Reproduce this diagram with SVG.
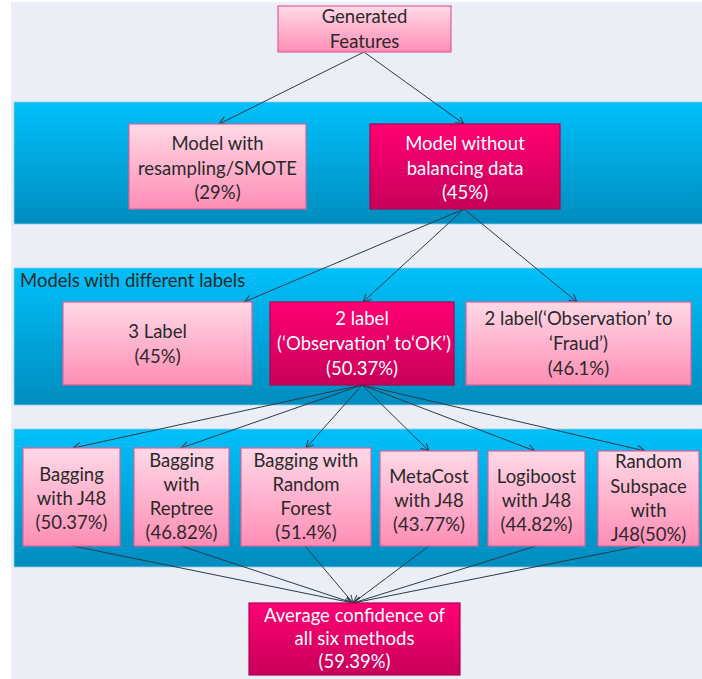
<svg xmlns="http://www.w3.org/2000/svg" width="702" height="679" viewBox="0 0 702 679">
<defs>
<linearGradient id="gLight" x1="0" y1="0" x2="0" y2="1">
<stop offset="0" stop-color="#ffd9e7"/><stop offset="1" stop-color="#ff8db5"/>
</linearGradient>
<linearGradient id="gDark" x1="0" y1="0" x2="0" y2="1">
<stop offset="0" stop-color="#ff0073"/><stop offset="1" stop-color="#c8005a"/>
</linearGradient>
<linearGradient id="gBand" x1="0" y1="0" x2="0" y2="1">
<stop offset="0" stop-color="#00c0fa"/><stop offset="1" stop-color="#008cbe"/>
</linearGradient>
<marker id="arr" markerWidth="10" markerHeight="10" refX="8" refY="4" orient="auto" markerUnits="userSpaceOnUse">
<path d="M0,0 L8,4 L0,8" fill="none" stroke="#2b3b4b" stroke-width="1"/>
</marker>
</defs>
<style>
.band{fill:url(#gBand);stroke:#8fd0ea;stroke-width:0.8}
.light{fill:url(#gLight);stroke:#e0609a;stroke-width:1.2}
.dark{fill:url(#gDark);stroke:#b00050;stroke-width:1.2}
text{font-family:Lato,"Liberation Sans",sans-serif;font-size:18.5px;text-anchor:middle}
.tl{fill:#2a2a2a}
.td{fill:#ffffff}
.conn line{stroke:#2b3b4b;stroke-width:1;marker-end:url(#arr)}
</style>
<rect x="0" y="0" width="702" height="679" fill="#ffffff"/>
<rect x="11" y="2" width="691" height="677" fill="#eceef5"/>
<g id="bands">
<rect class="band" x="14" y="102" width="690" height="122"/>
<rect class="band" x="14" y="268" width="690" height="137"/>
<rect class="band" x="14" y="429" width="690" height="138"/>
<text class="tl" x="20" y="287" style="text-anchor:start">Models with different labels</text>
</g>
<g id="connectors" class="conn">
<line x1="364" y1="52" x2="219" y2="124"/>
<line x1="364" y1="52" x2="464" y2="124"/>
<line x1="464" y1="209" x2="244" y2="302"/>
<line x1="464" y1="209" x2="363" y2="302"/>
<line x1="464" y1="209" x2="577" y2="302"/>
<line x1="362" y1="385" x2="73" y2="448"/>
<line x1="362" y1="385" x2="181" y2="448"/>
<line x1="362" y1="385" x2="306" y2="448"/>
<line x1="362" y1="385" x2="429" y2="451"/>
<line x1="362" y1="385" x2="535" y2="451"/>
<line x1="362" y1="385" x2="645" y2="451"/>
<line x1="73" y1="546" x2="353" y2="603"/>
<line x1="181" y1="546" x2="353" y2="603"/>
<line x1="305" y1="546" x2="353" y2="603"/>
<line x1="429" y1="546" x2="353" y2="603"/>
<line x1="536" y1="546" x2="353" y2="603"/>
<line x1="640" y1="546" x2="353" y2="603"/>
</g>
<g id="n-generated">
<rect class="light" x="278" y="6" width="173" height="46"/>
<text class="tl" x="364.5" y="23">Generated</text>
<text class="tl" x="364.5" y="48">Features</text>
</g>
<g id="n-smote">
<rect class="light" x="129" y="124" width="177" height="85"/>
<text class="tl" x="217.5" y="150">Model with</text>
<text class="tl" x="217.5" y="175">resampling/SMOTE</text>
<text class="tl" x="217.5" y="199">(29%)</text>
</g>
<g id="n-nobalance">
<rect class="dark" x="370" y="124" width="190" height="85"/>
<text class="td" x="465" y="150">Model without</text>
<text class="td" x="465" y="175">balancing data</text>
<text class="td" x="465" y="199">(45%)</text>
</g>
<g id="n-3label">
<rect class="light" x="63" y="302" width="189" height="83"/>
<text class="tl" x="157.5" y="338">3 Label</text>
<text class="tl" x="157.5" y="363">(45%)</text>
</g>
<g id="n-2label-ok">
<rect class="dark" x="270" y="302" width="184" height="83"/>
<text class="td" x="362" y="325">2 label</text>
<text class="td" x="364" y="350">(‘Observation’ to‘OK’)</text>
<text class="td" x="362" y="375">(50.37%)</text>
</g>
<g id="n-2label-fraud">
<rect class="light" x="466" y="302" width="225" height="83"/>
<text class="tl" x="578.5" y="325">2 label(‘Observation’ to</text>
<text class="tl" x="578.5" y="350">‘Fraud’)</text>
<text class="tl" x="578.5" y="375">(46.1%)</text>
</g>
<g id="n-bag-j48">
<rect class="light" x="23" y="448" width="97" height="98"/>
<text class="tl" x="71.5" y="481">Bagging</text>
<text class="tl" x="71.5" y="505">with J48</text>
<text class="tl" x="71.5" y="529">(50.37%)</text>
</g>
<g id="n-bag-reptree">
<rect class="light" x="134" y="448" width="95" height="98"/>
<text class="tl" x="181.5" y="467">Bagging</text>
<text class="tl" x="181.5" y="491">with</text>
<text class="tl" x="181.5" y="515">Reptree</text>
<text class="tl" x="181.5" y="539">(46.82%)</text>
</g>
<g id="n-bag-rf">
<rect class="light" x="241" y="448" width="130" height="98"/>
<text class="tl" x="306" y="467">Bagging with</text>
<text class="tl" x="306" y="491">Random</text>
<text class="tl" x="306" y="515">Forest</text>
<text class="tl" x="306" y="539">(51.4%)</text>
</g>
<g id="n-metacost">
<rect class="light" x="380" y="451" width="98" height="95"/>
<text class="tl" x="429" y="483">MetaCost</text>
<text class="tl" x="429" y="507">with J48</text>
<text class="tl" x="429" y="531">(43.77%)</text>
</g>
<g id="n-logiboost">
<rect class="light" x="488" y="451" width="97" height="95"/>
<text class="tl" x="536.5" y="483">Logiboost</text>
<text class="tl" x="536.5" y="507">with J48</text>
<text class="tl" x="536.5" y="531">(44.82%)</text>
</g>
<g id="n-subspace">
<rect class="light" x="598" y="451" width="101" height="95"/>
<text class="tl" x="648.5" y="468">Random</text>
<text class="tl" x="648.5" y="493">Subspace</text>
<text class="tl" x="648.5" y="517">with</text>
<text class="tl" x="648.5" y="541">J48(50%)</text>
</g>
<g id="n-average">
<rect class="dark" x="249" y="603" width="211" height="72"/>
<text class="td" x="354.5" y="622">Average confidence of</text>
<text class="td" x="354.5" y="645">all six methods</text>
<text class="td" x="354.5" y="668">(59.39%)</text>
</g>
</svg>
